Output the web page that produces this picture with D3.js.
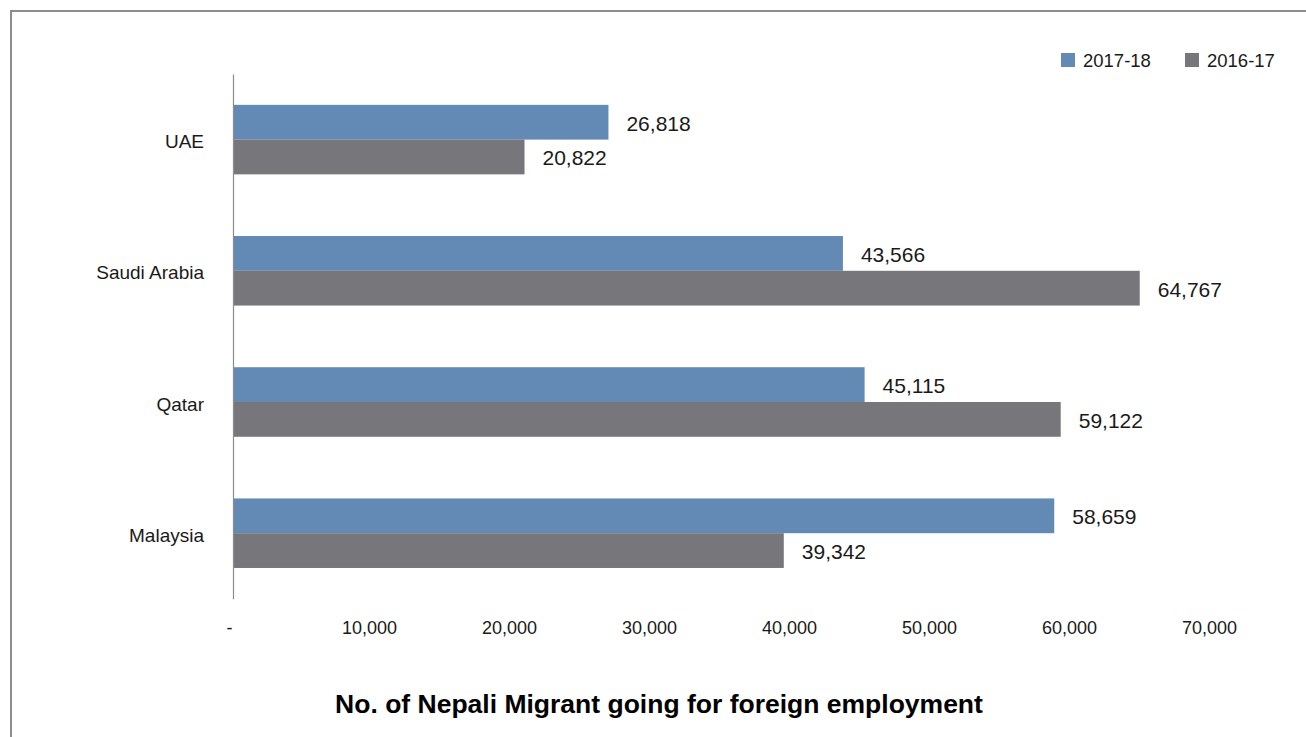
<!DOCTYPE html>
<html>
<head>
<meta charset="utf-8">
<script src="https://cdn.jsdelivr.net/npm/d3@7"></script>
<style>
  html, body { margin: 0; padding: 0; background: #fff; }
  svg { display: block; font-family: "Liberation Sans", Helvetica, Arial, sans-serif; }
</style>
</head>
<body>
<svg id="chart" width="1306" height="737"></svg>
<script>
// Destination countries (top to bottom) and migrant counts per fiscal year
const countries = ["UAE", "Saudi Arabia", "Qatar", "Malaysia"];
const series = ["2017-18", "2016-17"];
const values2017_18 = [26818, 43566, 45115, 58659];
const values2016_17 = [20822, 64767, 59122, 39342];
const xTicks = [0, 10000, 20000, 30000, 40000, 50000, 60000, 70000];
const colors = ["#6389b5", "#77777b"];
const title = "No. of Nepali Migrant going for foreign employment";

const svg = d3.select("#chart");
const W = 1306, H = 737;

// outer frame (continues past the right and bottom edges)
svg.append("path")
  .attr("d", `M11,${H + 5} L11,11 L${W + 5},11`)
  .attr("fill", "none")
  .attr("stroke", "#8c8c8c")
  .attr("stroke-width", 2);

const plot = { left: 233, top: 74, bottom: 598.8 };

const x = d3.scaleLinear().domain([0, 70000]).range([plot.left, plot.left + 980]);
const y = d3.scaleBand().domain(countries).range([plot.top, plot.bottom]).paddingInner(0.47).paddingOuter(0.235);
const ySub = d3.scaleBand().domain(series).range([0, y.bandwidth()]);

const fmt = d3.format(",");
const rows = countries.map((c, i) => ({
  country: c,
  vals: [values2017_18[i], values2016_17[i]]
}));

const groups = svg.append("g").selectAll("g")
  .data(rows).join("g")
  .attr("transform", d => `translate(0,${y(d.country)})`);

groups.selectAll("rect")
  .data(d => d.vals.map((v, j) => ({ v, s: series[j], j })))
  .join("rect")
  .attr("x", x(0))
  .attr("y", d => ySub(d.s))
  .attr("width", d => x(d.v) - x(0))
  .attr("height", ySub.bandwidth())
  .attr("fill", d => colors[d.j]);

groups.selectAll("text.val")
  .data(d => d.vals.map((v, j) => ({ v, s: series[j], j })))
  .join("text")
  .attr("class", "val")
  .attr("x", d => x(d.v) + 18)
  .attr("y", d => ySub(d.s) + ySub.bandwidth() / 2 + 1)
  .attr("dominant-baseline", "central")
  .attr("font-size", 21)
  .attr("fill", "#1a1a1a")
  .text(d => fmt(d.v));

// category axis
const yAxis = svg.append("g")
  .attr("transform", `translate(${plot.left},0)`)
  .call(d3.axisLeft(y).tickSize(0).tickPadding(29));
yAxis.select(".domain").attr("stroke", "#8c8c8c").attr("stroke-width", 1.2);
yAxis.selectAll("text")
  .attr("dy", "0.45em")
  .attr("font-size", 19)
  .attr("font-family", "Liberation Sans, Helvetica, Arial, sans-serif")
  .attr("fill", "#1a1a1a");

// value axis: labels only
const xAxis = svg.append("g")
  .attr("transform", `translate(0,596)`)
  .call(d3.axisBottom(x).tickValues(xTicks).tickSize(0).tickPadding(25)
    .tickFormat(d => d === 0 ? "-" : fmt(d)));
xAxis.select(".domain").remove();
xAxis.selectAll("text")
  .attr("dx", -4)
  .attr("font-size", 18)
  .attr("font-family", "Liberation Sans, Helvetica, Arial, sans-serif")
  .attr("fill", "#1a1a1a");

// legend
const legend = svg.append("g").selectAll("g")
  .data(series).join("g")
  .attr("transform", (d, i) => `translate(${1061 + i * 124},53)`);
legend.append("rect").attr("width", 14).attr("height", 14).attr("fill", (d, i) => colors[i]);
legend.append("text")
  .attr("x", 22).attr("y", 7.5)
  .attr("dominant-baseline", "central")
  .attr("font-size", 18.5)
  .attr("fill", "#1a1a1a")
  .text(d => d);

// title
svg.append("text")
  .attr("x", 659).attr("y", 704)
  .attr("text-anchor", "middle")
  .attr("dominant-baseline", "central")
  .attr("font-size", 26.5)
  .attr("font-weight", "bold")
  .attr("fill", "#000")
  .text(title);
</script>
</body>
</html>
